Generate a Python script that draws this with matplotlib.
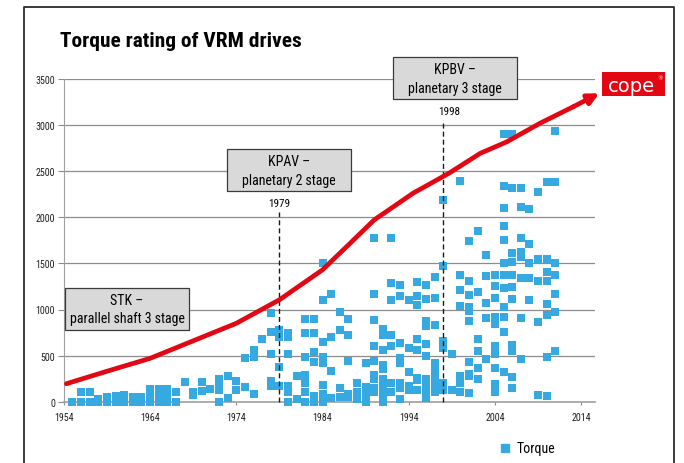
import matplotlib
matplotlib.use("Agg")
import matplotlib.pyplot as plt
from matplotlib import font_manager
from matplotlib.lines import Line2D
from matplotlib.patches import Rectangle

# torque ratings (kNm) per year, one list per year
stk_years = list(range(1955, 1979))
stk_torque = [
    [0], [0, 100], [0, 100], [0, 30], [0, 50], [0, 60], [0, 75], [0, 50],
    [0, 50], [0, 70, 140], [0, 70, 140], [0, 70, 140], [0, 100], [215],
    [75, 110], [120, 215], [140], [0, 130, 190, 250], [45, 280], [130, 220],
    [160, 470], [80, 480, 560], [680], [170, 220, 520, 760, 960],
]
kpav_years = list(range(1979, 1998))
kpav_torque = [
    [170, 380, 700, 780],
    [0, 100, 170, 520, 700, 740],
    [30, 280],
    [0, 100, 200, 290, 480, 740, 900],
    [0, 60, 430, 540, 740, 900],
    [0, 80, 180, 420, 480, 650, 1100, 1500],
    [40, 330, 700, 1170],
    [50, 150, 780, 970],
    [50, 80, 440, 720, 900],
    [30, 100, 200],
    [0, 80, 160, 420],
    [100, 150, 250, 290, 440, 600, 890, 1170, 1775],
    [0, 80, 160, 250, 350, 400, 560, 720, 790],
    [100, 200, 600, 720, 1100, 1290, 1775],
    [30, 150, 200, 420, 470, 640, 1150, 1270],
    [130, 170, 320, 580, 1100],
    [130, 230, 260, 560, 680, 1050, 1150, 1300],
    [40, 120, 200, 250, 500, 630, 820, 880, 1110, 1270],
    [100, 180, 260, 340, 420, 830, 1130, 1350],
]
kpbv_years = list(range(1998, 2012))
kpbv_torque = [
    [130, 200, 580, 660, 1470, 2190],
    [130, 520],
    [100, 200, 280, 1035, 1210, 1375, 2395],
    [90, 280, 300, 435, 870, 980, 1025, 1160, 1310, 1740],
    [250, 370, 550, 680, 1190, 1855],
    [460, 910, 1075, 1365, 1590],
    [110, 190, 370, 520, 600, 845, 915, 1120, 1250, 1370],
    [325, 760, 915, 1030, 1235, 1370, 1500, 1750, 1910, 2105, 2340, 2905],
    [150, 270, 545, 610, 1115, 1240, 1370, 1515, 1610, 2315, 2905],
    [460, 910, 1340, 1570, 1620, 1780, 2115, 2315],
    [1105, 1340, 1505, 1710, 2095],
    [70, 860, 1310, 1545, 2270],
    [65, 480, 935, 1055, 1310, 1410, 1545, 2385],
    [550, 975, 1165, 1370, 1500, 2385, 2940],
]

# red trend curve
trend_years = [1954.3, 1959, 1964, 1969, 1974, 1979, 1984, 1987, 1990,
               1994.5, 1998.7, 2002.3, 2005.4, 2009.2, 2013.1]
trend_values = [195, 330, 470, 660, 850, 1105, 1430, 1700, 1972,
                2261, 2480, 2694, 2820, 3019, 3200]
trend_tip = (2016.1, 3345)

milestones = [1979, 1998]
milestone_tops = [2060, 3050]

BLUE = "#36a9e1"
RED = "#e30613"
GRID = "#8c8c8c"

names = {f.name for f in font_manager.fontManager.ttflist}
NARROW = dict(family="DejaVu Sans", stretch="condensed")
for cand in ["Liberation Sans Narrow", "Roboto Condensed", "Open Sans Condensed",
             "Noto Sans Condensed", "DejaVu Sans Condensed"]:
    if cand in names:
        NARROW = dict(family=cand)
        break


W, H = 684, 464


def fx(px):
    return px / W


def fy(py):
    return 1 - py / H


fig = plt.figure(figsize=(W / 100, H / 100), dpi=100)
ax = fig.add_axes([fx(63.8), fy(402.7), (595 - 63.8) / W, 322.7 / H])

xs, ys = [], []
for years, vals in [(stk_years, stk_torque), (kpav_years, kpav_torque), (kpbv_years, kpbv_torque)]:
    for yr, lst in zip(years, vals):
        for v in lst:
            xs.append(yr)
            ys.append(v)
ax.scatter(xs, ys, marker="s", s=33, color=BLUE, linewidths=0, zorder=3, clip_on=False)

for yr, top in zip(milestones, milestone_tops):
    ax.plot([yr, yr], [0, top], color="#1a1a1a", lw=1.0, ls=(0, (3.6, 2.2)), zorder=4, clip_on=False)

ax.plot(trend_years, trend_values, color=RED, lw=3.4, solid_capstyle="round",
        solid_joinstyle="round", zorder=5, clip_on=False)
ax.annotate("", xy=trend_tip, xytext=(trend_years[-1], trend_values[-1]),
            arrowprops=dict(arrowstyle="-|>", color=RED, lw=3.4, mutation_scale=16,
                            shrinkA=0, shrinkB=0),
            annotation_clip=False, zorder=5)

ax.set_xlim(1954, 2015.6)
ax.set_ylim(0, 3500)
ax.set_xticks([1954, 1964, 1974, 1984, 1994, 2004, 2014])
ax.set_yticks(range(0, 3501, 500))
ax.yaxis.grid(True, color=GRID, lw=0.9)
ax.set_axisbelow(True)
for s in ["top", "right"]:
    ax.spines[s].set_visible(False)
ax.spines["left"].set_color("#a0a0a0")
ax.spines["bottom"].set_color("#a0a0a0")
ax.spines["bottom"].set_linewidth(1.2)
ax.tick_params(axis="y", length=4, width=0.8, color=GRID, pad=2.4, labelsize=7.2)
ax.tick_params(axis="x", length=2.5, width=0.8, color=GRID, pad=5, labelsize=7.2)
for lab in ax.get_xticklabels() + ax.get_yticklabels():
    lab.set_fontproperties(font_manager.FontProperties(size=lab.get_fontsize(), **NARROW))
    lab.set_color("#222222")

# title
fig.text(fx(59.5), fy(46.7), "Torque rating of VRM drives", fontsize=15.4, weight="bold",
         va="baseline", ha="left", **NARROW)

# annotation boxes
boxes = [
    (65, 288.5, "STK \u2013", "parallel shaft 3 stage"),
    (227, 150, "KPAV \u2013", "planetary 2 stage"),
    (393.3, 58, "KPBV \u2013", "planetary 3 stage"),
]
for left, top, l1, l2 in boxes:
    fig.add_artist(Rectangle((fx(left), fy(top + 42)), 124 / W, 42 / H,
                             transform=fig.transFigure, facecolor="#d9d9d9",
                             edgecolor="#3a3a3a", lw=0.9, zorder=6))
    fig.text(fx(left + 62), fy(top + 16.5), l1, ha="center", va="baseline",
             fontsize=10, zorder=7, **NARROW)
    fig.text(fx(left + 62), fy(top + 35), l2, ha="center", va="baseline",
             fontsize=10, zorder=7, **NARROW)

fig.text(fx(279), fy(204), "1979", ha="center", va="center", fontsize=8, **NARROW)
fig.text(fx(449.5), fy(112), "1998", ha="center", va="center", fontsize=8, **NARROW)

# legend
fig.add_artist(Line2D([fx(504.5)], [fy(449)], marker="s", ms=5.6, color=BLUE, lw=0,
                      transform=fig.transFigure))
fig.text(fx(516.5), fy(449), "Torque", ha="left", va="center", fontsize=10, **NARROW)

# logo
fig.add_artist(Rectangle((fx(601.7), fy(97.3)), 63.3 / W, 24 / H, transform=fig.transFigure,
                         facecolor=RED, edgecolor="none", zorder=6))
fig.text(fx(631.5), fy(86.8), "cope", ha="center", va="center", color="white",
         fontsize=14, zorder=7, family="DejaVu Sans")
fig.text(fx(660), fy(78.5), "\u00ae", ha="center", va="center", color="white",
         fontsize=4, zorder=7, family="DejaVu Sans")

# outer frame
fig.add_artist(Line2D([fx(24), fx(24), fx(674), fx(674)], [0, fy(7.5), fy(7.5), 0],
                      transform=fig.transFigure, color="#2b2b2b", lw=1.3))

fig.savefig("out.png", dpi=100)
